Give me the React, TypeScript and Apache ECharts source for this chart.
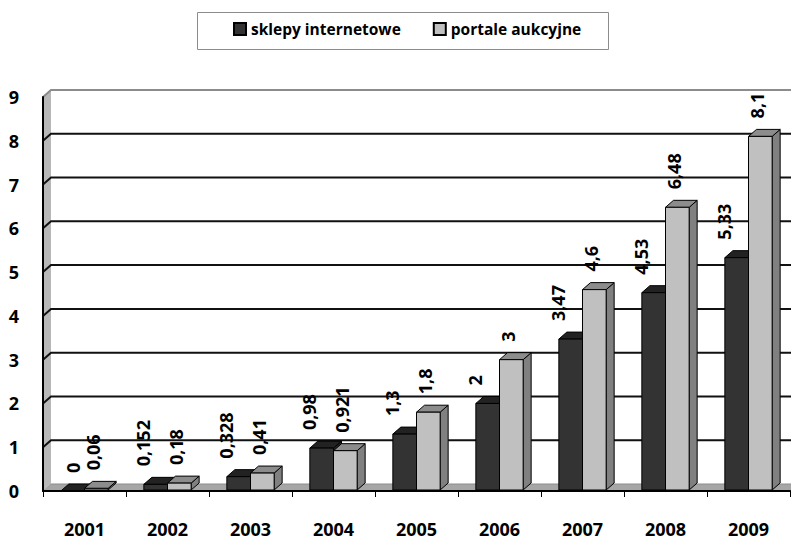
import React, { useEffect, useRef } from "react";
import * as echarts from "echarts";

const years = ["2001", "2002", "2003", "2004", "2005", "2006", "2007", "2008", "2009"];
const sklepy = [0, 0.152, 0.328, 0.98, 1.3, 2, 3.47, 4.53, 5.33];
const portale = [0.06, 0.18, 0.41, 0.921, 1.8, 3, 4.6, 6.48, 8.1];
const yTicks = [0, 1, 2, 3, 4, 5, 6, 7, 8, 9];
const seriesNames = ["sklepy internetowe", "portale aukcyjne"];

const DX = 8;
const DY = -7;
const FONT = "'Open Sans', 'DejaVu Sans', sans-serif";

const fmt = (v: number) => String(v).replace(".", ",");

function makeBarRender(isLeft: boolean, front: string, topC: string, sideC: string, labelShift: number) {
  return (params: any, api: any) => {
    const ci = api.value(0);
    const v = api.value(1);
    const base = api.coord([ci, 0]);
    const top = api.coord([ci, v]);
    const band = api.size([1, 0])[0];
    const bw = band * 0.285;
    const x0 = isLeft ? base[0] - bw : base[0];
    const x1 = x0 + bw;
    const yT = top[1];
    const yB = base[1] - 1;
    const stroke = "#000";
    return {
      type: "group",
      children: [
        {
          type: "polygon",
          shape: { points: [[x1, yT], [x1 + DX, yT + DY], [x1 + DX, yB + DY], [x1, yB]] },
          style: { fill: sideC, stroke, lineWidth: 1 },
        },
        {
          type: "polygon",
          shape: { points: [[x0, yT], [x0 + DX, yT + DY], [x1 + DX, yT + DY], [x1, yT]] },
          style: { fill: topC, stroke, lineWidth: 1 },
        },
        {
          type: "rect",
          shape: { x: x0, y: yT, width: bw, height: Math.max(0, yB - yT) },
          style: { fill: front, stroke, lineWidth: 1 },
        },
        {
          type: "text",
          x: (x0 + x1) / 2 + (v === 0 ? 0 : labelShift),
          y: yT + DY - 11,
          rotation: Math.PI / 2,
          style: {
            text: fmt(v),
            fill: "#000",
            font: `bold 18px ${FONT}`,
            align: "left",
            verticalAlign: "middle",
          },
        },
      ],
    };
  };
}

function wallRender(params: any, api: any) {
  const t = api.value(0);
  const cs = params.coordSys;
  const xL = cs.x;
  const xR = cs.x + cs.width;
  const y = api.coord([0, t])[1];
  const children: any[] = [];
  if (t === 0) {
    const yTop = api.coord([0, yTicks[yTicks.length - 1]])[1];
    children.push({
      type: "polygon",
      shape: { points: [[xL, y], [xL + DX, y + DY], [xR + DX, y + DY], [xR, y]] },
      style: { fill: "#a6a6a6", stroke: "#8c8c8c", lineWidth: 1 },
    });
    children.push({
      type: "polygon",
      shape: { points: [[xL, y], [xL, yTop], [xL + DX, yTop + DY], [xL + DX, y + DY]] },
      style: { fill: "#b8b8b8", stroke: "none" },
    });
  } else {
    const top = t === yTicks[yTicks.length - 1];
    children.push({
      type: "polyline",
      shape: { points: [[xL, y], [xL + DX, y + DY], [xR + DX + 10, y + DY]] },
      style: { stroke: top ? "#8c8c8c" : "#111", lineWidth: 2, fill: "none" },
    });
  }
  return { type: "group", children };
}

export default function App() {
  const ref = useRef<HTMLDivElement>(null);
  useEffect(() => {
    if (!ref.current) return;
    const chart = echarts.init(ref.current, undefined, { renderer: "svg" });
    chart.setOption({
      animation: false,
      backgroundColor: "#fff",
      textStyle: { fontFamily: FONT },
      graphic: [
        {
          type: "rect",
          z: 0,
          shape: { x: 197.5, y: 12.5, width: 411, height: 37 },
          style: { fill: "#fff", stroke: "#8c8c8c", lineWidth: 1 },
        },
      ],
      legend: {
        data: seriesNames,
        left: 228,
        top: 16,
        icon: "rect",
        itemWidth: 12,
        itemHeight: 12,
        itemGap: 32,
        selectedMode: false,
        textStyle: { fontFamily: FONT, fontWeight: "bold", fontSize: 15.5, color: "#000" },
        z: 5,
      },
      grid: { left: 43, right: 1, top: 97, bottom: 49, containLabel: false },
      xAxis: {
        type: "category",
        data: years,
        boundaryGap: true,
        axisLine: { show: true, lineStyle: { color: "#000", width: 2 } },
        axisTick: { show: true, length: 6, lineStyle: { color: "#000", width: 1 } },
        axisLabel: { fontFamily: FONT, fontWeight: "bold", fontSize: 18, color: "#000", margin: 29 },
        splitLine: { show: false },
        z: 10,
      },
      yAxis: {
        type: "value",
        min: 0,
        max: 9,
        interval: 1,
        axisLine: { show: true, lineStyle: { color: "#000", width: 2 } },
        axisTick: { show: false },
        axisLabel: { fontFamily: FONT, fontWeight: "bold", fontSize: 18, color: "#000", margin: 24 },
        splitLine: { show: false },
        z: 10,
      },
      series: [
        {
          name: "wall",
          type: "custom",
          data: yTicks.map((t) => [t]),
          encode: { y: 0 },
          renderItem: wallRender,
          silent: true,
          z: 1,
        },
        {
          name: seriesNames[0],
          type: "custom",
          data: sklepy.map((v, i) => [i, v]),
          encode: { x: 0, y: 1 },
          itemStyle: { color: "#333333", borderColor: "#000", borderWidth: 1 },
          renderItem: makeBarRender(true, "#333333", "#222222", "#262626", -13),
          z: 3,
        },
        {
          name: seriesNames[1],
          type: "custom",
          data: portale.map((v, i) => [i, v]),
          encode: { x: 0, y: 1 },
          itemStyle: { color: "#c0c0c0", borderColor: "#000", borderWidth: 1 },
          renderItem: makeBarRender(false, "#c0c0c0", "#8c8c8c", "#808080", -3),
          z: 4,
        },
      ],
    });
    return () => chart.dispose();
  }, []);
  return <div ref={ref} style={{ width: 791, height: 540, position: "absolute", left: 0, top: 0 }} />;
}
